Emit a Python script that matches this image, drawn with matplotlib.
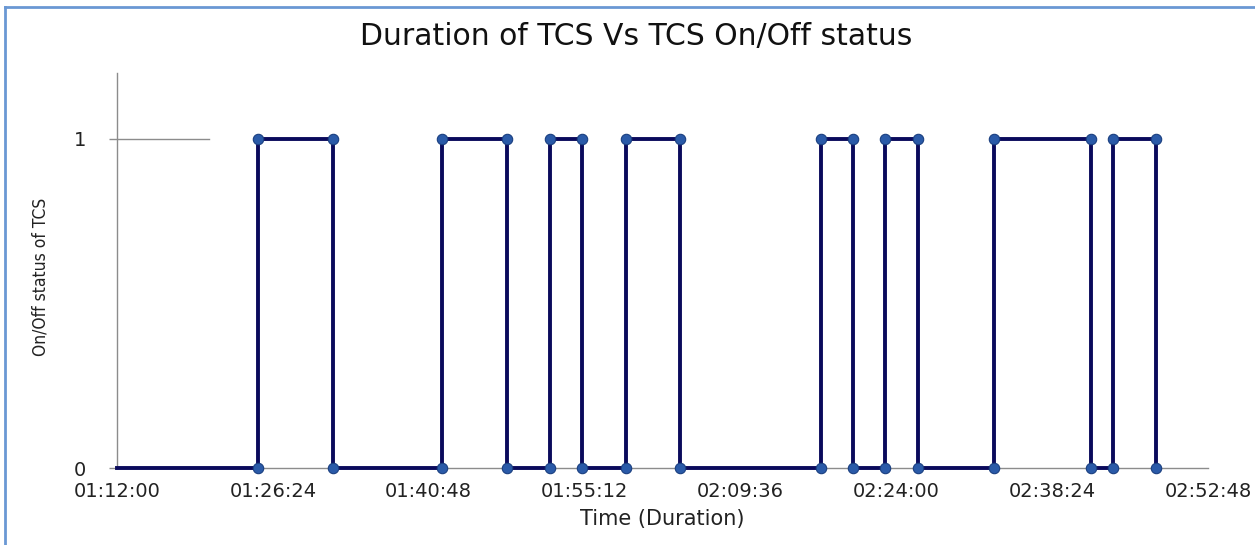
import matplotlib
matplotlib.use("Agg")
import matplotlib.pyplot as plt
from matplotlib.lines import Line2D
from matplotlib.ticker import FuncFormatter, FixedLocator

# ---- data ----
start_time = "01:12:00"
end_time = "02:52:48"
switch_times = ["01:25:00", "01:32:00", "01:42:00", "01:48:00", "01:52:00", "01:55:00",
                "01:59:00", "02:04:00", "02:17:00", "02:20:00", "02:23:00", "02:26:00",
                "02:33:00", "02:42:00", "02:44:00", "02:48:00"]
tick_labels = ["01:12:00", "01:26:24", "01:40:48", "01:55:12", "02:09:36",
               "02:24:00", "02:38:24", "02:52:48"]
y_ticks = [0, 1]
title = "Duration of TCS Vs TCS On/Off status"
xlabel = "Time (Duration)"
ylabel = "On/Off status of TCS"


def to_sec(s):
    h, m, sec = map(int, s.split(":"))
    return h * 3600 + m * 60 + sec


def fmt(v, pos=None):
    v = int(round(v))
    return f"{v // 3600:02d}:{(v % 3600) // 60:02d}:{v % 60:02d}"


# build step series: off -> on -> off ...
xs = [to_sec(start_time)]
ys = [0]
state = 0
for t in switch_times:
    ts = to_sec(t)
    xs.append(ts); ys.append(state)
    state = 1 - state
    xs.append(ts); ys.append(state)

W, H = 1255, 545
fig = plt.figure(figsize=(W / 100, H / 100), dpi=100)
ax = fig.add_axes([117 / W, 1 - 468 / H, (1208 - 117) / W, (468 - 73) / H])

line_col = "#0a0a5c"
mk_face = "#2a5aa8"
mk_edge = "#1a3f80"

ax.plot(xs, ys, color=line_col, lw=2.8, solid_joinstyle="miter", zorder=3,
        clip_on=False)
ax.plot(xs[1:], ys[1:], ls="none", marker="o", ms=7.5, mfc=mk_face, mec=mk_edge,
        mew=0.8, zorder=4, clip_on=False)

ax.set_xlim(to_sec(start_time), to_sec(end_time))
ax.set_ylim(0, 1.2)
ax.xaxis.set_major_locator(FixedLocator([to_sec(t) for t in tick_labels]))
ax.xaxis.set_major_formatter(FuncFormatter(fmt))
ax.set_yticks(y_ticks)

for s in ["top", "right"]:
    ax.spines[s].set_visible(False)
for s in ["left", "bottom"]:
    ax.spines[s].set_color("#8c8c8c")
    ax.spines[s].set_linewidth(1.0)
    ax.spines[s].set_zorder(1)

ax.axhline(1, xmin=0, xmax=(209 - 117) / (1208 - 117), color="#8c8c8c", lw=1.0, zorder=1)

ax.tick_params(axis="x", length=0, pad=10, labelsize=14, colors="#222222")
ax.tick_params(axis="y", length=6, width=1.0, color="#8c8c8c", pad=16,
               labelsize=14, labelcolor="#222222")

ax.set_xlabel(xlabel, fontsize=15, labelpad=6, color="#222222")
ax.set_ylabel(ylabel, fontsize=12.5, color="#222222",
              family="DejaVu Sans", fontstretch="condensed")
ax.yaxis.set_label_coords(-0.062, 0.483)
fig.text(636 / W, 1 - 37 / H, title, ha="center", va="center", fontsize=21.5, color="#111111")

# chart frame border (top and left visible)
bc = "#6a98d4"
fig.add_artist(Line2D([5 / W, 1], [1 - 7 / H, 1 - 7 / H], transform=fig.transFigure, color=bc, lw=2))
fig.add_artist(Line2D([5 / W, 5 / W], [0, 1 - 7 / H], transform=fig.transFigure, color=bc, lw=2))

fig.savefig("out.png", dpi=100, facecolor="white")
